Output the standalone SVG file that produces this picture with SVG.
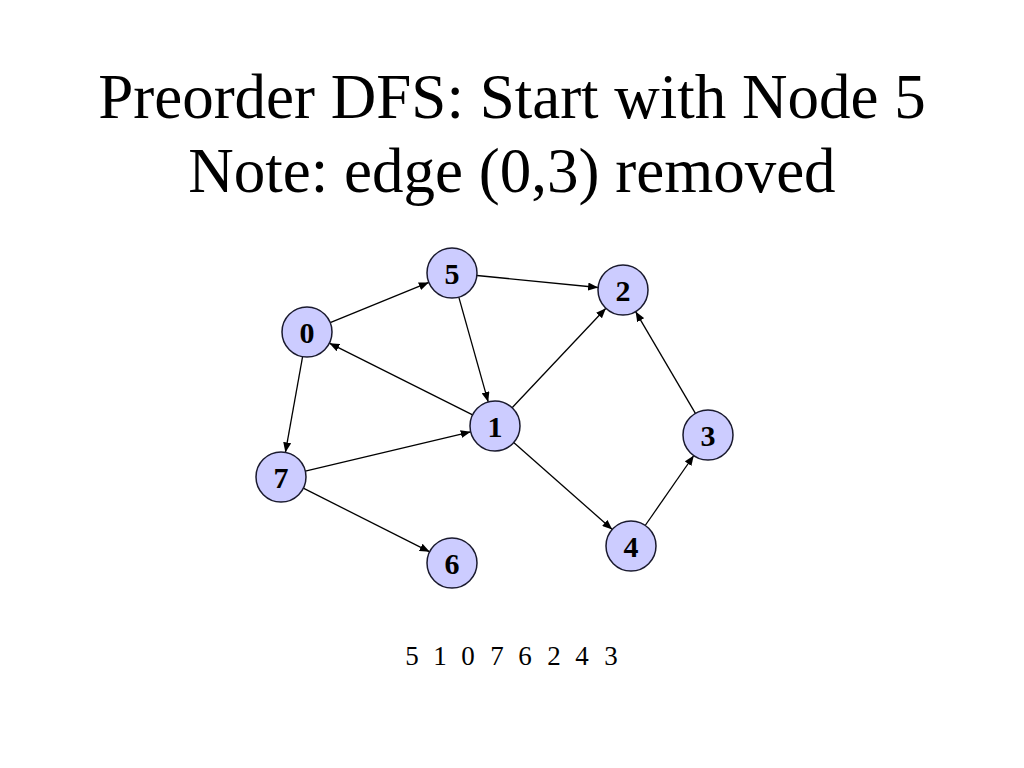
<svg xmlns="http://www.w3.org/2000/svg" width="1024" height="768" viewBox="0 0 1024 768">
<style>
.title{font-family:"Liberation Serif","Times New Roman",serif;font-size:63px;fill:#000;text-anchor:middle}
.nl{font-family:"Liberation Serif","Times New Roman",serif;font-size:30px;font-weight:bold;fill:#000;text-anchor:middle}
.node circle{fill:#CCCCFF;stroke:#1a1a2e;stroke-width:1.5}
.edge{stroke:#000;stroke-width:1.3;fill:none;marker-end:url(#ah)}
.seq{font-family:"Liberation Serif","Times New Roman",serif;font-size:27px;fill:#000;text-anchor:middle}
</style>
<defs>
<marker id="ah" markerUnits="userSpaceOnUse" markerWidth="11" markerHeight="8" refX="10" refY="4" orient="auto">
<path d="M0,0 L10,4 L0,8 z" fill="#000"/>
</marker>
</defs>
<rect width="1024" height="768" fill="#fff"/>
<text class="title" x="512" y="118">Preorder DFS: Start with Node 5</text>
<text class="title" x="512" y="192">Note: edge (0,3) removed</text>
<g id="connectors">
<line class="edge" x1="330.2" y1="322.6" x2="428.8" y2="282.4"/>
<line class="edge" x1="476.9" y1="275.5" x2="598.1" y2="287.5"/>
<line class="edge" x1="458.8" y1="297.1" x2="488.2" y2="401.9"/>
<line class="edge" x1="472.6" y1="414.8" x2="329.4" y2="343.2"/>
<line class="edge" x1="512.1" y1="407.8" x2="605.9" y2="308.2"/>
<line class="edge" x1="302.6" y1="356.6" x2="285.4" y2="452.4"/>
<line class="edge" x1="305.3" y1="471.2" x2="470.7" y2="431.8"/>
<line class="edge" x1="303.3" y1="488.2" x2="429.7" y2="551.8"/>
<line class="edge" x1="513.7" y1="442.5" x2="612.3" y2="529.5"/>
<line class="edge" x1="645.2" y1="525.5" x2="693.8" y2="455.5"/>
<line class="edge" x1="695.4" y1="413.4" x2="635.6" y2="311.6"/>
</g>
<g id="node5" class="node"><circle cx="452" cy="273" r="25"/><text class="nl" x="452" y="284">5</text></g>
<g id="node2" class="node"><circle cx="623" cy="290" r="25"/><text class="nl" x="623" y="301">2</text></g>
<g id="node0" class="node"><circle cx="307" cy="332" r="25"/><text class="nl" x="307" y="343">0</text></g>
<g id="node1" class="node"><circle cx="495" cy="426" r="25"/><text class="nl" x="495" y="437">1</text></g>
<g id="node3" class="node"><circle cx="708" cy="435" r="25"/><text class="nl" x="708" y="446">3</text></g>
<g id="node7" class="node"><circle cx="281" cy="477" r="25"/><text class="nl" x="281" y="488">7</text></g>
<g id="node4" class="node"><circle cx="631" cy="546" r="25"/><text class="nl" x="631" y="557">4</text></g>
<g id="node6" class="node"><circle cx="452" cy="563" r="25"/><text class="nl" x="452" y="574">6</text></g>
<text class="seq" y="665"><tspan x="412">5</tspan><tspan x="440">1</tspan><tspan x="468">0</tspan><tspan x="497">7</tspan><tspan x="525">6</tspan><tspan x="554">2</tspan><tspan x="582">4</tspan><tspan x="611">3</tspan></text>
</svg>
